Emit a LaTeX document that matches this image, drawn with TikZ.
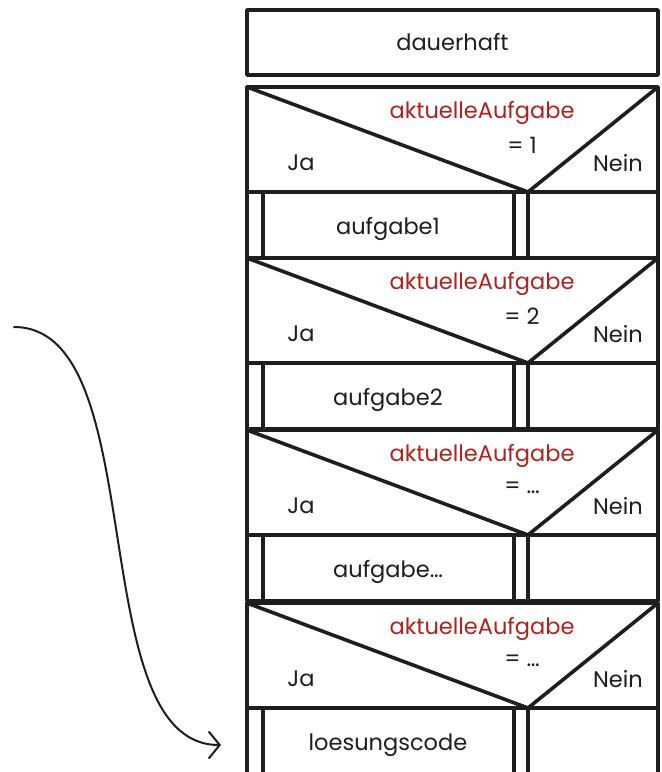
\documentclass[tikz,border=0pt]{standalone}
\usepackage{fontspec}
\setmainfont{Poppins}
\usetikzlibrary{arrows.meta}
\definecolor{ink}{HTML}{1E1E1E}
\definecolor{redink}{HTML}{B3211E}
\begin{document}
\begin{tikzpicture}[x=1pt,y=-1pt,
  frame/.style={draw=ink, line width=3.6pt, line join=round, line cap=round},
  lbl/.style={font=\fontsize{22.5}{26}\selectfont, text=ink, inner sep=0pt},
  cond/.style={lbl, text=redink},
  flowarrow/.style={draw=ink, line width=2pt, line cap=round, -{Straight Barb[length=11pt,width=27pt,line width=2pt]}}]
\useasboundingbox (0,0) rectangle (662,772);
\fill[white] (0,0) rectangle (662,772);
% top block
\node[frame, lbl, minimum width=411pt, minimum height=65pt] (dauer) at (452.5,42.5) {dauerhaft};
% decisions and rows
\foreach \t/\v/\c [count=\i] in {87/1/aufgabe1, 258/2/aufgabe2, 430/{\ldots}/aufgabe\ldots, 603/{\ldots}/loesungscode}{
  \pgfmathsetmacro{\rt}{\t+105}
  \pgfmathsetmacro{\rb}{\i==4 ? 775 : \t+171}
  % decision
  \draw[frame] (247,\t) rectangle (658,\rt);
  \draw[frame] (247,\t) -- (528,\rt) -- (658,\t);
  \node[cond] (cond\i) at (482,\t+26) {aktuelleAufgabe};
  \node[lbl] (val\i) at (522,\t+58) {= \v};
  \node[lbl] (ja\i) at (301,\t+76) {Ja};
  \node[lbl] (nein\i) at (618,\t+76) {Nein};
  % row
  \ifnum\i=4
    \draw[frame] (247,\rb) -- (247,\rt) -- (658,\rt) -- (658,\rb);
    \draw[frame] (528,\rt) -- (528,\rb);
  \else
    \draw[frame] (247,\rt) rectangle (658,\rb);
    \draw[frame] (528,\rt) -- (528,\rb);
  \fi
  \draw[frame] (263,\rt) -- (263,\rb);
  \draw[frame] (514,\rt) -- (514,\rb);
  \node[lbl, minimum width=251pt, minimum height=\rb-\rt] (call\i) at (388.5,{(\rt+\rb)/2}) {};
  \node[lbl] (calltext\i) at (388,\rt+37) {\c};
}
\coordinate (arrStart) at (14,327);
\coordinate (arrEnd) at (221,745);
\draw[flowarrow] (arrStart) .. controls +(140,0) and +(-140,0) .. (arrEnd);
\end{tikzpicture}
\end{document}
